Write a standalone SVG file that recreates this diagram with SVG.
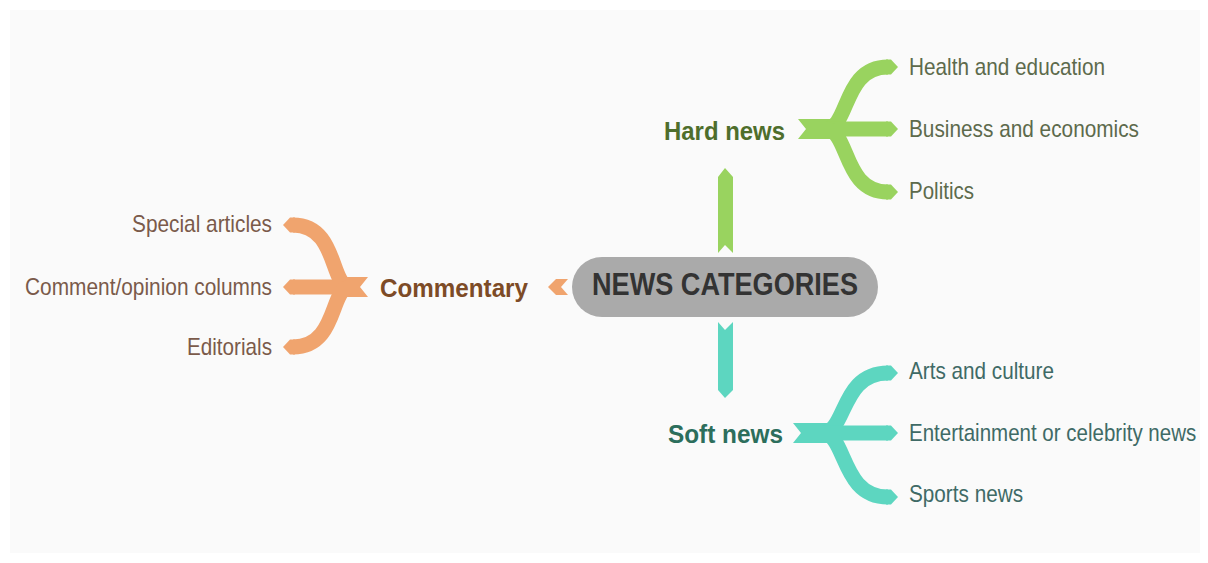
<svg xmlns="http://www.w3.org/2000/svg" width="1208" height="563" viewBox="0 0 1208 563">
<defs>
<style>
.leaf{font-family:"Liberation Sans",Arial,sans-serif;font-size:24px}
.lbl{font-family:"Liberation Sans",Arial,sans-serif;font-size:26px;font-weight:bold}
.g{fill:#99d35f}.gs{stroke:#99d35f;fill:none;stroke-width:15}
.o{fill:#f0a46e}.os{stroke:#f0a46e;fill:none;stroke-width:15}
.t{fill:#5dd6c0}.ts{stroke:#5dd6c0;fill:none;stroke-width:15}
</style>
</defs>
<rect width="1208" height="563" fill="#ffffff"/>
<rect x="10" y="10" width="1190" height="543" fill="#fafafa"/>

<g id="connectors">
  <!-- center to hard news -->
  <polygon class="g" points="725,168 733,177 733,253 725,245 718,253 718,177"/>
  <!-- center to soft news -->
  <polygon class="t" points="718,322 725,330 733,322 733,390 725,398 718,390"/>
  <!-- center to commentary -->
  <polygon class="o" points="548,287 556,279 568,279 561,287 568,295 556,295"/>

  <!-- hard news branch -->
  <g id="hard-branch">
    <polygon class="g" points="798,119 836,119 836,139 798,139 806,129"/>
    <path class="gs" d="M825 129 C850 129 842 67 888 67"/>
    <path class="gs" d="M825 129 H888"/>
    <path class="gs" d="M825 129 C850 129 842 192 888 192"/>
    <polygon class="g" points="886,59.5 891,59.5 898,67 891,74.5 886,74.5"/>
    <polygon class="g" points="886,121.5 891,121.5 898,129 891,136.5 886,136.5"/>
    <polygon class="g" points="886,184.5 891,184.5 898,192 891,199.5 886,199.5"/>
  </g>

  <!-- soft news branch -->
  <g id="soft-branch">
    <polygon class="t" points="793,423 832,423 832,443 793,443 801,433"/>
    <path class="ts" d="M822 433 C847 433 840 373 888 373"/>
    <path class="ts" d="M822 433 H888"/>
    <path class="ts" d="M822 433 C847 433 840 497 888 497"/>
    <polygon class="t" points="886,365.5 891,365.5 898,373 891,380.5 886,380.5"/>
    <polygon class="t" points="886,425.5 891,425.5 898,433 891,440.5 886,440.5"/>
    <polygon class="t" points="886,489.5 891,489.5 898,497 891,504.5 886,504.5"/>
  </g>

  <!-- commentary branch -->
  <g id="commentary-branch">
    <polygon class="o" points="368,277 338,277 338,297 368,297 360,287"/>
    <path class="os" d="M350 287 C330 287 338 225 293 225"/>
    <path class="os" d="M350 287 H293"/>
    <path class="os" d="M350 287 C330 287 338 347 293 347"/>
    <polygon class="o" points="295,217.5 290,217.5 283,225 290,232.5 295,232.5"/>
    <polygon class="o" points="295,279.5 290,279.5 283,287 290,294.5 295,294.5"/>
    <polygon class="o" points="295,339.5 290,339.5 283,347 290,354.5 295,354.5"/>
  </g>
</g>

<g id="center">
  <rect x="572" y="257" width="306" height="60" rx="30" fill="#aaaaaa"/>
  <text x="592" y="295" font-family="Liberation Sans, Arial, sans-serif" font-size="32" font-weight="bold" fill="#333333" textLength="266" lengthAdjust="spacingAndGlyphs">NEWS CATEGORIES</text>
</g>

<g id="hard-news">
  <text class="lbl" x="664" y="140" fill="#4e6e2c" textLength="121" lengthAdjust="spacingAndGlyphs">Hard news</text>
</g>
<g id="health-education">
  <text class="leaf" x="909" y="75" fill="#5d6a4c" textLength="196" lengthAdjust="spacingAndGlyphs">Health and education</text>
</g>
<g id="business-economics">
  <text class="leaf" x="909" y="137" fill="#5d6a4c" textLength="230" lengthAdjust="spacingAndGlyphs">Business and economics</text>
</g>
<g id="politics">
  <text class="leaf" x="909" y="199" fill="#5d6a4c" textLength="65" lengthAdjust="spacingAndGlyphs">Politics</text>
</g>

<g id="soft-news">
  <text class="lbl" x="668" y="443" fill="#2c6e5c" textLength="115" lengthAdjust="spacingAndGlyphs">Soft news</text>
</g>
<g id="arts-culture">
  <text class="leaf" x="909" y="379" fill="#3f6a66" textLength="145" lengthAdjust="spacingAndGlyphs">Arts and culture</text>
</g>
<g id="entertainment">
  <text class="leaf" transform="matrix(0.855 0 0 1 909 441)" x="0" y="0" fill="#3f6a66">Entertainment or celebrity news</text>
</g>
<g id="sports">
  <text class="leaf" x="909" y="502" fill="#3f6a66" textLength="114" lengthAdjust="spacingAndGlyphs">Sports news</text>
</g>

<g id="commentary">
  <text class="lbl" x="380" y="297" fill="#7d4b26" textLength="148" lengthAdjust="spacingAndGlyphs">Commentary</text>
</g>
<g id="special-articles">
  <text class="leaf" x="272" y="232" text-anchor="end" fill="#7a5a4a" textLength="140" lengthAdjust="spacingAndGlyphs">Special articles</text>
</g>
<g id="comment-opinion">
  <text class="leaf" x="272" y="295" text-anchor="end" fill="#7a5a4a" textLength="247" lengthAdjust="spacingAndGlyphs">Comment/opinion columns</text>
</g>
<g id="editorials">
  <text class="leaf" x="272" y="355" text-anchor="end" fill="#7a5a4a" textLength="85" lengthAdjust="spacingAndGlyphs">Editorials</text>
</g>
</svg>
